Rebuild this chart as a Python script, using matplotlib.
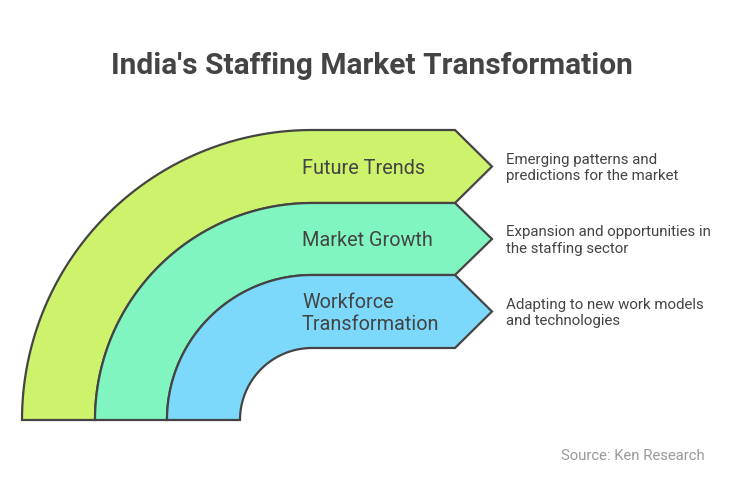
import matplotlib.pyplot as plt
import numpy as np
from matplotlib.patches import Polygon

title = "India's Staffing Market Transformation"
labels = ["Future Trends", "Market Growth", "Workforce\nTransformation"]
descs = ["Emerging patterns and\npredictions for the market",
         "Expansion and opportunities in\nthe staffing sector",
         "Adapting to new work models\nand technologies"]
colors = ["#cdf26b", "#80f5c0", "#7dd9fb"]
radii = [290, 217, 145, 72]  # band edges in pixels

plt.rcParams['font.family'] = ['Roboto', 'DejaVu Sans']

fig = plt.figure(figsize=(7.44, 4.8), dpi=100)
ax = fig.add_axes([0, 0, 1, 1])
ax.set_xlim(0, 744)
ax.set_ylim(480, 0)
ax.axis('off')

cx, cy = 312, 420
for i in range(3):
    R, r = radii[i], radii[i + 1]
    t = np.linspace(np.pi, np.pi / 2, 80)
    outer = np.column_stack([cx + R * np.cos(t), cy - R * np.sin(t)])
    inner = np.column_stack([cx + r * np.cos(t[::-1]), cy - r * np.sin(t[::-1])])
    arrow = [(455, cy - R), (492, cy - (R + r) / 2), (455, cy - r)]
    pts = np.vstack([outer, arrow, inner])
    ax.add_patch(Polygon(pts, closed=True, fc=colors[i], ec="#444444", lw=1.6))
    ym = cy - (R + r) / 2
    ax.text(302, ym + 2, labels[i], fontsize=14.3, color="#444444", va='center', ha='left',
            linespacing=1.2)
    ax.text(506, ym + 1.5, descs[i], fontsize=10.8, color="#444444", va='center', ha='left',
            linespacing=1.25)

ax.text(372, 66, title, fontsize=21.5, fontweight='bold', color="#444444", ha='center', va='center')
ax.text(705, 456, "Source: Ken Research", fontsize=10.7, color="#999999", ha='right', va='center')

fig.savefig("out.png", dpi=100)
